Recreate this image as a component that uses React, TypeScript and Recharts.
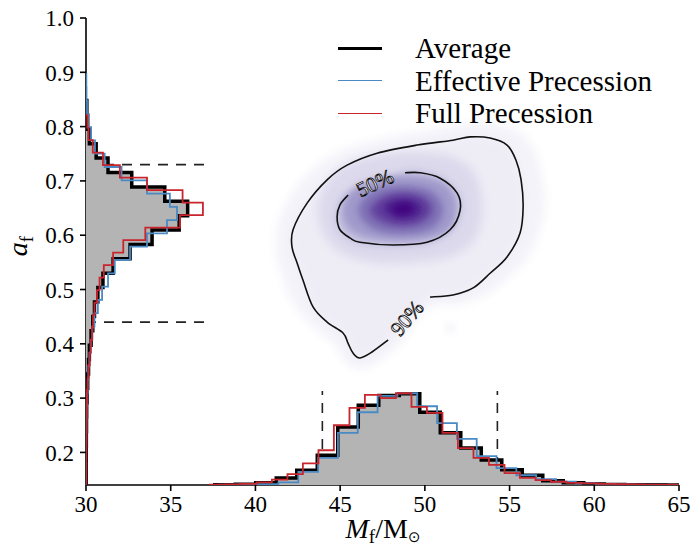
import React from "react";
import { ScatterChart, Scatter, XAxis, YAxis, ReferenceLine, Legend } from "recharts";

const FONT = '"Liberation Serif", "DejaVu Serif", serif';

// final mass histograms (bottom panel), bin edges + heights in a_f units above the floor
const massEdgesAvg = [37.6, 38.81, 40.02, 41.23, 42.44, 43.65, 44.86, 46.07, 47.28, 48.49, 49.7, 50.91, 52.12, 53.33, 54.54, 55.75, 56.96, 58.17, 59.38, 60.59, 61.8, 63.01, 64.22, 65.0];
const massAvg = [0.1405, 0.1415, 0.144, 0.153, 0.167, 0.195, 0.247, 0.287, 0.305, 0.308, 0.274, 0.236, 0.208, 0.186, 0.168, 0.158, 0.148, 0.144, 0.142, 0.141, 0.1405, 0.1403, 0.1402];
const massEdgesEff = [37.85, 39.02, 40.19, 41.36, 42.53, 43.7, 44.87, 46.04, 47.21, 48.38, 49.55, 50.72, 51.89, 53.06, 54.23, 55.4, 56.57, 57.74, 58.91, 60.08, 61.25, 62.42, 63.59, 64.76, 65.0];
const massEff = [0.1405, 0.141, 0.1415, 0.145, 0.164, 0.19, 0.236, 0.274, 0.304, 0.309, 0.285, 0.254, 0.225, 0.193, 0.171, 0.158, 0.151, 0.146, 0.143, 0.142, 0.141, 0.1405, 0.1405, 0.1403];
const massEdgesFull = [37.31, 38.23, 39.14, 40.06, 40.97, 41.89, 42.8, 43.72, 44.63, 45.55, 46.46, 47.38, 48.29, 49.21, 50.12, 51.04, 51.95, 52.87, 53.78, 54.7, 55.61, 56.53, 57.44, 58.36, 59.27, 60.19, 61.1, 62.02, 62.93, 63.85, 64.76, 65.0];
const massFull = [0.1405, 0.141, 0.142, 0.145, 0.15, 0.16, 0.18, 0.204, 0.25, 0.282, 0.306, 0.3, 0.309, 0.284, 0.273, 0.236, 0.208, 0.19, 0.177, 0.162, 0.153, 0.149, 0.146, 0.144, 0.143, 0.142, 0.1415, 0.141, 0.1405, 0.1405, 0.1403];

// final spin histograms (left panel), bin edges + extent in M_f units
const spinEdgesAvg = [0.14, 0.159, 0.1855, 0.212, 0.2385, 0.265, 0.2915, 0.318, 0.3445, 0.371, 0.3975, 0.424, 0.4505, 0.477, 0.5035, 0.53, 0.5565, 0.583, 0.6095, 0.636, 0.6625, 0.689, 0.7155, 0.742, 0.7685, 0.795, 0.8215, 0.848];
const spinAvg = [30.01, 30.01, 30.015, 30.02, 30.03, 30.04, 30.06, 30.1, 30.15, 30.2, 30.3, 30.4, 30.5, 30.7, 31.0, 31.6, 32.6, 33.9, 35.5, 36.0, 34.65, 32.7, 31.3, 30.6, 30.2, 30.1, 30.05];
const spinEdgesEff = [0.14, 0.163, 0.1875, 0.2119, 0.2364, 0.2609, 0.2853, 0.3098, 0.3342, 0.3587, 0.3832, 0.4076, 0.4321, 0.4565, 0.481, 0.5055, 0.5299, 0.5544, 0.5788, 0.6033, 0.6278, 0.6522, 0.6767, 0.7011, 0.7256, 0.7501, 0.7745, 0.799, 0.8235, 0.8479, 0.8724, 0.8968];
const spinEff = [30.01, 30.01, 30.015, 30.02, 30.03, 30.04, 30.06, 30.1, 30.14, 30.2, 30.28, 30.38, 30.5, 30.7, 30.95, 31.3, 31.7, 32.6, 33.6, 34.78, 35.37, 34.95, 33.6, 32.1, 31.1, 30.53, 30.3, 30.12, 30.06, 30.03, 30.02];
const spinEdgesFull = [0.14, 0.154, 0.177, 0.2, 0.223, 0.246, 0.269, 0.292, 0.315, 0.338, 0.361, 0.384, 0.407, 0.43, 0.453, 0.476, 0.499, 0.522, 0.545, 0.568, 0.591, 0.614, 0.637, 0.66, 0.683, 0.706, 0.729, 0.752, 0.775, 0.798, 0.821];
const spinFull = [30.01, 30.01, 30.015, 30.02, 30.025, 30.03, 30.04, 30.06, 30.1, 30.15, 30.22, 30.28, 30.36, 30.42, 30.5, 30.65, 30.8, 31.05, 31.6, 32.2, 33.5, 35.55, 36.9, 35.7, 33.6, 32.0, 31.0, 30.4, 30.15, 30.08];

// 90% credible bounds
const spinBounds = [0.44, 0.73];
const spinBoundsReach = 37.0;
const massBounds = [43.95, 54.28];
const massBoundsReach = 0.313;

// 2D density: contour lines (open where the labels sit) and shading levels
const contour90 = [[50.31, 0.486], [51.66, 0.49], [52.85, 0.503], [53.85, 0.53], [54.85, 0.56], [55.62, 0.604], [55.8, 0.652], [55.68, 0.702], [55.38, 0.738], [54.85, 0.766], [53.85, 0.779], [52.67, 0.781], [51.66, 0.775], [49.54, 0.766], [47.18, 0.751], [45.41, 0.729], [44.23, 0.702], [43.05, 0.659], [42.22, 0.61], [42.16, 0.578], [42.46, 0.549], [42.81, 0.517], [43.4, 0.468], [44.23, 0.44], [45.17, 0.42], [45.47, 0.401], [45.76, 0.383], [46.17, 0.374], [46.88, 0.385], [47.83, 0.407]];
const contour50 = [[45.47, 0.674], [44.99, 0.656], [44.82, 0.634], [44.99, 0.61], [45.58, 0.595], [46.17, 0.587], [48.12, 0.582], [50.13, 0.587], [51.49, 0.61], [52.08, 0.646], [51.9, 0.678], [50.9, 0.705], [49.72, 0.715], [48.83, 0.715]];
const shadeOuter = [[50.3, 0.468], [52.0, 0.472], [53.6, 0.49], [54.9, 0.52], [56.1, 0.56], [56.8, 0.61], [57.1, 0.66], [56.9, 0.71], [56.5, 0.755], [55.6, 0.79], [54.0, 0.805], [52.3, 0.805], [49.5, 0.79], [47.0, 0.775], [45.0, 0.755], [43.5, 0.725], [42.2, 0.68], [41.3, 0.62], [41.2, 0.57], [41.6, 0.52], [42.3, 0.47], [43.4, 0.43], [44.6, 0.4], [45.2, 0.37], [45.8, 0.355], [46.6, 0.355], [47.6, 0.375], [48.6, 0.4], [49.4, 0.44]];
const shadeMid = [[43.7, 0.646], [44.11, 0.692], [45.29, 0.729], [47.36, 0.748], [49.72, 0.753], [51.78, 0.742], [52.96, 0.711], [53.38, 0.656], [53.08, 0.6], [51.78, 0.564], [49.72, 0.551], [47.36, 0.549], [45.29, 0.564], [44.11, 0.597]];
const shadeInner1 = [[45.17, 0.646], [45.7, 0.683], [47.36, 0.705], [49.72, 0.707], [51.37, 0.689], [51.84, 0.646], [51.25, 0.606], [49.24, 0.591], [46.88, 0.595], [45.58, 0.613]];
const shadeInner2 = [[46.06, 0.646], [46.88, 0.68], [48.65, 0.691], [50.43, 0.68], [51.07, 0.646], [50.43, 0.613], [48.65, 0.602], [46.88, 0.613]];
const shadeInner3 = [[46.77, 0.648], [47.65, 0.672], [48.83, 0.678], [50.01, 0.669], [50.43, 0.646], [49.83, 0.624], [48.54, 0.617], [47.36, 0.626]];
const shadeCore = [[47.53, 0.65], [48.24, 0.665], [49.24, 0.665], [49.83, 0.65], [49.42, 0.634], [48.42, 0.63]];
const shadePeak = [[48.1, 0.65], [48.6, 0.658], [49.2, 0.655], [49.3, 0.645], [48.7, 0.639], [48.2, 0.642]];
const strayBlob = [[51.49, 0.429]];
const contourLabels = [
  { x: 47.06, y: 0.696, text: "50%", angle: -25 },
  { x: 48.95, y: 0.447, text: "90%", angle: -50 },
];

const seriesNames = ["Average", "Effective Precession", "Full Precession"];
const seriesColors = ["#000000", "#4a8ac4", "#c8252d"];
const xTicks = [30, 35, 40, 45, 50, 55, 60, 65];
const yTicks = [0.2, 0.3, 0.4, 0.5, 0.6, 0.7, 0.8, 0.9, 1.0];

type Pt = { x: number; y: number };

const toPts = (arr: number[][]): Pt[] => arr.map(([x, y]) => ({ x, y }));

// step outline of a histogram standing on the bottom floor
function stepsUp(edges: number[], vals: number[], floor: number): Pt[] {
  const pts: Pt[] = [{ x: edges[0], y: floor }];
  vals.forEach((v, i) => pts.push({ x: edges[i], y: v }, { x: edges[i + 1], y: v }));
  pts.push({ x: edges[vals.length], y: floor });
  return pts;
}

// step outline of a histogram leaning on the left wall
function stepsSide(edges: number[], vals: number[], wall: number): Pt[] {
  const pts: Pt[] = [{ x: wall, y: edges[0] }];
  vals.forEach((v, i) => pts.push({ x: v, y: edges[i] }, { x: v, y: edges[i + 1] }));
  pts.push({ x: wall, y: edges[vals.length] });
  return pts;
}

const linePath = (pts: Pt[], close = false) =>
  pts.map((p, i) => `${i ? "L" : "M"}${p.x},${p.y}`).join("") + (close ? "Z" : "");

function smoothPath(pts: Pt[], closed: boolean) {
  const n = pts.length;
  const at = (i: number) => (closed ? pts[(i + n) % n] : pts[Math.max(0, Math.min(n - 1, i))]);
  let d = `M${pts[0].x},${pts[0].y}`;
  const segs = closed ? n : n - 1;
  for (let i = 0; i < segs; i++) {
    const p0 = at(i - 1), p1 = at(i), p2 = at(i + 1), p3 = at(i + 2);
    d += `C${p1.x + (p2.x - p0.x) / 6},${p1.y + (p2.y - p0.y) / 6} ${p2.x - (p3.x - p1.x) / 6},${p2.y - (p3.y - p1.y) / 6} ${p2.x},${p2.y}`;
  }
  return closed ? d + "Z" : d;
}

const noDot = () => <g />;

const fillStep = (fill: string) => (p: any) => <path d={linePath(p.points, true)} fill={fill} stroke="none" />;
const strokeStep = (stroke: string, w: number) => (p: any) => (
  <path d={linePath(p.points)} fill="none" stroke={stroke} strokeWidth={w} strokeLinejoin="miter" />
);
const shade = (fill: string, blur: string) => (p: any) => (
  <path d={smoothPath(p.points, true)} fill={fill} stroke="none" filter={`url(#${blur})`} />
);
const contourLine = (p: any) => <path d={smoothPath(p.points, false)} fill="none" stroke="#111" strokeWidth={1.6} />;

const labelShape = (p: any) => (
  <text
    x={p.cx}
    y={p.cy}
    transform={`rotate(${p.payload.angle} ${p.cx} ${p.cy})`}
    textAnchor="middle"
    dominantBaseline="central"
    className="serif-text"
    style={{ fontFamily: FONT, fontSize: 21 }}
    fill="#fff"
    stroke="#000"
    strokeWidth={0.75}
  >
    {p.payload.text}
  </text>
);

const blobShape = (p: any) => <circle cx={p.cx} cy={p.cy} r={4} fill="#eceaf4" filter="url(#blurWide)" />;

const XTick = (p: any) => (
  <text x={p.x} y={p.y} dy="0.71em" textAnchor="middle" className="serif-text" style={{ fontFamily: FONT, fontSize: 23 }} fill="#000">
    {p.payload.value}
  </text>
);
const YTick = (p: any) => (
  <text x={p.x} y={p.y} dy="0.36em" textAnchor="end" className="serif-text" style={{ fontFamily: FONT, fontSize: 23 }} fill="#000">
    {Number(p.payload.value).toFixed(1)}
  </text>
);

const LegendBox = () => (
  <div style={{ fontFamily: FONT, fontSize: 29, color: "#000" }}>
    {seriesNames.map((name, i) => (
      <div key={name} style={{ display: "flex", alignItems: "center", height: 32.5 }}>
        <span
          style={{
            display: "inline-block",
            width: 44,
            height: 0,
            borderTop: `${i === 0 ? 3 : 1.5}px solid ${seriesColors[i]}`,
            marginRight: 33,
          }}
        />
        <span style={{ lineHeight: "32px" }}>{name}</span>
      </div>
    ))}
  </div>
);

const axisStroke = { stroke: "#000", strokeWidth: 1.6 };

export default function App() {
  const floor = 0.14;
  const wall = 30;
  const bottomAvg = stepsUp(massEdgesAvg, massAvg, floor);
  const bottomEff = stepsUp(massEdgesEff, massEff, floor);
  const bottomFull = stepsUp(massEdgesFull, massFull, floor);
  const sideAvg = stepsSide(spinEdgesAvg, spinAvg, wall);
  const sideEff = stepsSide(spinEdgesEff, spinEff, wall);
  const sideFull = stepsSide(spinEdgesFull, spinFull, wall);

  const shades: [number[][], string, string][] = [
    [shadeOuter, "#f4f3f9", "blurWide"],
    [contour90, "#eeecf5", "blurWide"],
    [shadeMid, "#dcd9ec", "blurWide"],
    [contour50, "#bbb7da", "blurWide"],
    [shadeInner1, "#a09acb", "blurNarrow"],
    [shadeInner2, "#7f71b5", "blurNarrow"],
    [shadeInner3, "#62419d", "blurNarrow"],
    [shadeCore, "#4c1a8c", "blurNarrow"],
    [shadePeak, "#40047e", "blurNarrow"],
  ];

  return (
    <div style={{ position: "absolute", left: 0, top: 0, background: "#fff", fontFamily: FONT }}>
      <style>{`.recharts-wrapper svg text { font-family: "Liberation Serif", "DejaVu Serif", serif; }`}</style>
      <ScatterChart width={691} height={546} margin={{ top: 18, right: 12, bottom: 0, left: 0 }} style={{ fontFamily: FONT }}>
        <defs>
          <filter id="blurWide" x="-50%" y="-50%" width="200%" height="200%">
            <feGaussianBlur stdDeviation="5" />
          </filter>
          <filter id="blurNarrow" x="-50%" y="-50%" width="200%" height="200%">
            <feGaussianBlur stdDeviation="3.5" />
          </filter>
        </defs>
        <XAxis
          type="number"
          dataKey="x"
          domain={[30, 65]}
          ticks={xTicks}
          interval={0}
          allowDataOverflow
          height={61}
          tickSize={6}
          tickMargin={5}
          axisLine={axisStroke}
          tickLine={axisStroke}
          tick={<XTick />}
        />
        <YAxis
          type="number"
          dataKey="y"
          domain={[0.14, 1.0]}
          ticks={yTicks}
          interval={0}
          allowDataOverflow
          width={86}
          tickSize={6}
          tickMargin={6}
          axisLine={axisStroke}
          tickLine={axisStroke}
          tick={<YTick />}
        />

        {shades.map(([poly, color, blur], i) => (
          <Scatter key={`shade${i}`} data={toPts(poly)} line={shade(color, blur)} shape={noDot} legendType="none" isAnimationActive={false} />
        ))}
        <Scatter data={toPts(strayBlob)} shape={blobShape} legendType="none" isAnimationActive={false} />
        <Scatter data={toPts(contour90)} line={contourLine} shape={noDot} legendType="none" isAnimationActive={false} />
        <Scatter data={toPts(contour50)} line={contourLine} shape={noDot} legendType="none" isAnimationActive={false} />
        <Scatter data={contourLabels} shape={labelShape} legendType="none" isAnimationActive={false} />

        <Scatter data={bottomAvg} line={fillStep("#b4b4b4")} shape={noDot} legendType="none" isAnimationActive={false} />
        <Scatter data={sideAvg} line={fillStep("#b4b4b4")} shape={noDot} legendType="none" isAnimationActive={false} />

        <Scatter name={seriesNames[0]} data={bottomAvg} line={strokeStep(seriesColors[0], 3.5)} shape={noDot} isAnimationActive={false} />
        <Scatter data={sideAvg} line={strokeStep(seriesColors[0], 3.5)} shape={noDot} legendType="none" isAnimationActive={false} />
        <Scatter name={seriesNames[1]} data={bottomEff} line={strokeStep(seriesColors[1], 1.8)} shape={noDot} isAnimationActive={false} />
        <Scatter data={sideEff} line={strokeStep(seriesColors[1], 1.8)} shape={noDot} legendType="none" isAnimationActive={false} />
        <Scatter name={seriesNames[2]} data={bottomFull} line={strokeStep(seriesColors[2], 1.8)} shape={noDot} isAnimationActive={false} />
        <Scatter data={sideFull} line={strokeStep(seriesColors[2], 1.8)} shape={noDot} legendType="none" isAnimationActive={false} />

        {spinBounds.map((b) => (
          <ReferenceLine key={`s${b}`} segment={[{ x: wall, y: b }, { x: spinBoundsReach, y: b }]} stroke="#222" strokeWidth={1.6} strokeDasharray="10 8" />
        ))}
        {massBounds.map((b) => (
          <ReferenceLine key={`m${b}`} segment={[{ x: b, y: floor }, { x: b, y: massBoundsReach }]} stroke="#222" strokeWidth={1.6} strokeDasharray="10 8" />
        ))}

        <text x={383} y={538} textAnchor="middle" style={{ fontFamily: FONT, fontSize: 28 }} fill="#000">
          <tspan fontStyle="italic">M</tspan>
          <tspan style={{ fontSize: 19 }} dy={5}>f</tspan>
          <tspan dy={-5}>/M</tspan>
          <tspan style={{ fontSize: 15, fontFamily: '"DejaVu Sans", sans-serif' }} dy={4}>⊙</tspan>
        </text>
        <text transform="translate(27 246) rotate(-90)" textAnchor="middle" style={{ fontFamily: FONT, fontSize: 28 }} fill="#000">
          <tspan fontStyle="italic">a</tspan>
          <tspan style={{ fontSize: 19 }} dy={6}>f</tspan>
        </text>

        <Legend
          layout="vertical"
          align="center"
          verticalAlign="middle"
          wrapperStyle={{ left: 338, top: 32, width: 340 }}
          content={() => <LegendBox />}
        />
      </ScatterChart>
    </div>
  );
}
